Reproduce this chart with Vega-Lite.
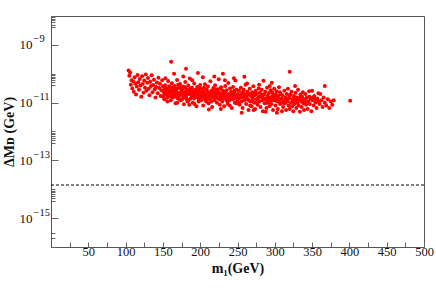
{
  "$schema": "https://vega.github.io/schema/vega-lite/v6.json",
  "width": 373,
  "height": 231,
  "autosize": "none",
  "padding": {"left": 51, "top": 16, "right": 12, "bottom": 44},
  "background": "white",
  "config": {
    "view": {"stroke": "#555", "strokeWidth": 1},
    "font": "Liberation Serif",
    "axis": {"grid": false, "domainColor": "#555", "tickColor": "#666", "labelFont": "Liberation Serif", "titleFont": "Liberation Serif", "labelColor": "#111", "titleColor": "#111"}
  },
  "resolve": {"axis": {"y": "independent"}},
  "datasets": {
    "pts": [
      {"m":104,"d":1.3e-10},{"m":105,"d":8.5e-11},{"m":106,"d":1.1e-10},{"m":107,"d":4.2e-11},{"m":108,"d":6.0e-11},{"m":109,"d":3.1e-11},{"m":110,"d":5.5e-11},{"m":111,"d":2.4e-11},{"m":112,"d":7.6e-11},{"m":113,"d":4.6e-11},{"m":114,"d":1.9e-11},{"m":115,"d":3.6e-11},{"m":116,"d":9.0e-11},{"m":117,"d":5.1e-11},{"m":118,"d":2.8e-11},{"m":119,"d":6.6e-11},{"m":120,"d":3.9e-11},{"m":121,"d":1.6e-11},{"m":122,"d":8.2e-11},{"m":123,"d":4.4e-11},{"m":124,"d":2.2e-11},{"m":125,"d":5.8e-11},{"m":126,"d":3.3e-11},{"m":127,"d":9.5e-11},{"m":128,"d":2.6e-11},{"m":129,"d":4.9e-11},{"m":130,"d":7.1e-11},{"m":131,"d":3.0e-11},{"m":132,"d":1.8e-11},{"m":133,"d":5.3e-11},{"m":134,"d":3.8e-11},{"m":135,"d":8.8e-11},{"m":136,"d":2.3e-11},{"m":137,"d":4.1e-11},{"m":138,"d":6.2e-11},{"m":139,"d":2.9e-11},{"m":140,"d":1.5e-11},{"m":141,"d":3.5e-11},{"m":142,"d":5.0e-11},{"m":143,"d":2.1e-11},{"m":144,"d":7.3e-11},{"m":145,"d":3.2e-11},{"m":146,"d":4.5e-11},{"m":147,"d":1.7e-11},{"m":148,"d":2.7e-11},{"m":149,"d":6.0e-11},{"m":150,"d":3.7e-11},
      {"m":151,"d":2.4e-11},{"m":152,"d":1.3e-11},{"m":153,"d":4.0e-11},{"m":154,"d":2.0e-11},{"m":155,"d":3.1e-11},{"m":156,"d":1.1e-11},{"m":157,"d":5.6e-11},{"m":158,"d":2.6e-11},{"m":159,"d":1.7e-11},{"m":160,"d":3.4e-11},{"m":161,"d":2.6e-10},{"m":161,"d":2.2e-11},{"m":162,"d":4.7e-11},{"m":163,"d":1.5e-11},{"m":164,"d":2.9e-11},{"m":165,"d":1.0e-10},{"m":165,"d":1.9e-11},{"m":166,"d":3.8e-11},{"m":167,"d":9.5e-12},{"m":168,"d":2.5e-11},{"m":169,"d":6.1e-11},{"m":170,"d":1.4e-11},{"m":171,"d":3.2e-11},{"m":172,"d":2.1e-11},{"m":173,"d":4.4e-11},{"m":174,"d":1.2e-11},{"m":175,"d":2.7e-11},{"m":176,"d":1.8e-11},{"m":177,"d":3.6e-11},{"m":178,"d":8.8e-12},{"m":179,"d":2.3e-11},{"m":180,"d":5.2e-11},{"m":181,"d":1.5e-10},{"m":181,"d":1.6e-11},{"m":182,"d":2.9e-11},{"m":183,"d":1.1e-11},{"m":184,"d":3.9e-11},{"m":185,"d":2.0e-11},{"m":186,"d":6.8e-11},{"m":187,"d":1.4e-11},{"m":188,"d":2.5e-11},{"m":189,"d":3.3e-11},{"m":190,"d":1.0e-11},{"m":191,"d":2.2e-11},{"m":192,"d":4.6e-11},{"m":193,"d":1.7e-11},{"m":194,"d":2.8e-11},{"m":195,"d":7.5e-12},{"m":196,"d":3.5e-11},{"m":197,"d":1.07e-10},{"m":197,"d":1.9e-11},{"m":198,"d":2.6e-11},{"m":199,"d":1.3e-11},{"m":200,"d":4.1e-11},
      {"m":150.5,"d":1.6e-11},{"m":152.5,"d":3.0e-11},{"m":154.5,"d":2.5e-11},{"m":156.5,"d":1.9e-11},{"m":158.5,"d":3.7e-11},{"m":160.5,"d":1.2e-11},{"m":162.5,"d":2.4e-11},{"m":164.5,"d":3.5e-11},{"m":166.5,"d":1.6e-11},{"m":168.5,"d":2.0e-11},{"m":170.5,"d":4.2e-11},{"m":172.5,"d":1.3e-11},{"m":174.5,"d":2.3e-11},{"m":176.5,"d":3.0e-11},{"m":178.5,"d":1.5e-11},{"m":180.5,"d":2.4e-11},{"m":182.5,"d":1.9e-11},{"m":184.5,"d":1.2e-11},{"m":186.5,"d":3.1e-11},{"m":188.5,"d":1.6e-11},{"m":190.5,"d":2.7e-11},{"m":192.5,"d":9.0e-12},{"m":194.5,"d":2.1e-11},{"m":196.5,"d":1.5e-11},{"m":198.5,"d":3.2e-11},
      {"m":151.7,"d":2.0e-11},{"m":155.8,"d":1.5e-11},{"m":159.6,"d":2.8e-11},{"m":163.7,"d":2.1e-11},{"m":167.8,"d":3.0e-11},{"m":171.6,"d":1.7e-11},{"m":175.7,"d":1.3e-11},{"m":179.8,"d":3.4e-11},{"m":183.6,"d":2.6e-11},{"m":187.8,"d":2.0e-11},{"m":191.7,"d":1.4e-11},{"m":195.6,"d":2.4e-11},{"m":199.7,"d":1.8e-11},{"m":153.3,"d":7.0e-11},{"m":177.3,"d":8.0e-11},{"m":189.2,"d":6.0e-11},{"m":169.3,"d":1.0e-11},{"m":185.4,"d":8.5e-12},{"m":197.8,"d":1.1e-11},
      {"m":157.4,"d":2.3e-11},{"m":161.9,"d":1.7e-11},{"m":166.0,"d":2.6e-11},{"m":170.0,"d":2.1e-11},{"m":173.9,"d":3.3e-11},{"m":178.1,"d":1.9e-11},{"m":182.0,"d":1.3e-11},{"m":186.1,"d":2.2e-11},{"m":190.0,"d":1.8e-11},{"m":193.9,"d":2.5e-11},{"m":198.0,"d":1.4e-11},
      {"m":200.8,"d":2.3e-11},{"m":201.5,"d":1.2e-11},{"m":202.3,"d":3.0e-11},{"m":203.1,"d":1.7e-11},{"m":204.0,"d":8.0e-12},{"m":204.8,"d":2.5e-11},{"m":205.6,"d":1.4e-11},{"m":206.4,"d":4.3e-11},{"m":207.2,"d":1.9e-11},{"m":208.0,"d":1.1e-11},{"m":208.8,"d":2.8e-11},{"m":209.6,"d":1.6e-11},{"m":210.4,"d":3.6e-11},{"m":211.2,"d":9.5e-12},{"m":212.0,"d":2.1e-11},{"m":212.8,"d":1.3e-11},{"m":213.6,"d":5.5e-11},{"m":214.4,"d":1.8e-11},{"m":215.2,"d":2.6e-11},{"m":216.0,"d":7.0e-12},{"m":216.8,"d":1.5e-11},{"m":217.6,"d":3.2e-11},{"m":218.4,"d":2.0e-11},{"m":219.2,"d":1.2e-11},{"m":220.0,"d":4.0e-11},{"m":220.8,"d":1.7e-11},{"m":221.6,"d":2.4e-11},{"m":222.4,"d":1.0e-11},{"m":223.2,"d":2.9e-11},{"m":224.0,"d":1.4e-11},{"m":224.8,"d":6.5e-11},{"m":225.6,"d":2.2e-11},{"m":226.4,"d":8.5e-12},{"m":227.2,"d":1.6e-11},{"m":228.0,"d":3.4e-11},{"m":228.8,"d":1.9e-11},{"m":229.6,"d":1.1e-11},{"m":230.4,"d":1.0e-10},{"m":230.4,"d":2.6e-11},{"m":231.2,"d":1.5e-11},{"m":232.0,"d":7.5e-12},{"m":232.8,"d":2.1e-11},{"m":233.6,"d":3.8e-11},{"m":234.4,"d":1.3e-11},{"m":235.2,"d":2.7e-11},{"m":236.0,"d":1.7e-11},{"m":236.8,"d":9.0e-12},{"m":237.6,"d":4.8e-11},{"m":238.4,"d":2.0e-11},{"m":239.2,"d":1.2e-11},{"m":240.0,"d":3.1e-11},{"m":240.8,"d":1.6e-11},{"m":241.6,"d":2.4e-11},{"m":242.4,"d":6.5e-12},{"m":243.2,"d":1.8e-11},{"m":244.0,"d":3.5e-11},{"m":244.8,"d":1.4e-11},{"m":245.6,"d":2.2e-11},{"m":246.4,"d":1.0e-11},{"m":247.2,"d":5.8e-11},{"m":248.0,"d":1.7e-11},{"m":248.8,"d":2.8e-11},{"m":249.6,"d":1.2e-11},{"m":250.4,"d":2.0e-11},
      {"m":200.3,"d":1.5e-11},{"m":202.7,"d":2.2e-11},{"m":205.1,"d":3.3e-11},{"m":207.6,"d":1.3e-11},{"m":209.9,"d":2.4e-11},{"m":212.4,"d":1.7e-11},{"m":214.9,"d":1.1e-11},{"m":217.1,"d":2.3e-11},{"m":219.7,"d":2.9e-11},{"m":222.0,"d":1.5e-11},{"m":224.4,"d":2.0e-11},{"m":226.8,"d":3.0e-11},{"m":229.1,"d":1.4e-11},{"m":231.7,"d":1.9e-11},{"m":234.0,"d":2.4e-11},{"m":236.4,"d":1.1e-11},{"m":238.9,"d":1.5e-11},{"m":241.1,"d":2.0e-11},{"m":243.7,"d":1.3e-11},{"m":246.0,"d":2.6e-11},{"m":248.4,"d":9.5e-12},{"m":203.6,"d":7.5e-11},{"m":218.9,"d":8.0e-11},{"m":233.1,"d":6.0e-11},{"m":245.2,"d":7.0e-11},{"m":211.6,"d":5.8e-12},{"m":227.7,"d":6.0e-12},{"m":239.6,"d":8.0e-12},
      {"m":206.0,"d":1.8e-11},{"m":210.9,"d":1.4e-11},{"m":215.8,"d":2.0e-11},{"m":221.1,"d":1.9e-11},{"m":225.9,"d":1.3e-11},{"m":230.9,"d":2.1e-11},{"m":235.8,"d":1.6e-11},{"m":240.4,"d":1.3e-11},{"m":244.6,"d":1.9e-11},{"m":249.2,"d":1.5e-11},
      {"m":251.2,"d":1.4e-11},{"m":252.0,"d":2.6e-11},{"m":252.8,"d":8.5e-12},{"m":253.6,"d":1.8e-11},{"m":254.4,"d":3.3e-11},{"m":255.2,"d":1.1e-11},{"m":256.0,"d":2.1e-11},{"m":256.8,"d":6.5e-12},{"m":257.6,"d":1.5e-11},{"m":258.4,"d":2.8e-11},{"m":259.2,"d":7.8e-11},{"m":259.2,"d":1.2e-11},{"m":260.0,"d":1.9e-11},{"m":260.8,"d":4.2e-11},{"m":261.6,"d":9.0e-12},{"m":262.4,"d":1.6e-11},{"m":263.2,"d":2.4e-11},{"m":264.0,"d":1.3e-11},{"m":264.8,"d":5.5e-12},{"m":265.6,"d":2.0e-11},{"m":266.4,"d":3.0e-11},{"m":267.2,"d":1.1e-11},{"m":268.0,"d":1.7e-11},{"m":268.8,"d":7.5e-12},{"m":269.6,"d":2.3e-11},{"m":270.4,"d":1.4e-11},{"m":271.2,"d":3.7e-11},{"m":272.0,"d":1.0e-11},{"m":272.8,"d":1.8e-11},{"m":273.6,"d":6.0e-12},{"m":274.4,"d":2.6e-11},{"m":275.2,"d":1.3e-11},{"m":276.0,"d":2.0e-11},{"m":276.8,"d":8.5e-12},{"m":277.6,"d":1.5e-11},{"m":278.4,"d":3.1e-11},{"m":279.2,"d":1.1e-11},{"m":280.0,"d":2.2e-11},{"m":280.8,"d":7.0e-12},{"m":281.6,"d":1.6e-11},{"m":282.4,"d":2.8e-11},{"m":283.2,"d":1.2e-11},{"m":284.0,"d":5.0e-12},{"m":284.8,"d":5.7e-11},{"m":285.6,"d":1.9e-11},{"m":286.4,"d":9.5e-12},{"m":287.2,"d":2.4e-11},{"m":288.0,"d":1.4e-11},{"m":288.8,"d":6.5e-12},{"m":289.6,"d":3.3e-11},{"m":290.4,"d":1.7e-11},{"m":291.2,"d":1.0e-11},{"m":292.0,"d":2.1e-11},{"m":292.8,"d":7.5e-12},{"m":293.6,"d":1.3e-11},{"m":294.4,"d":2.7e-11},{"m":295.2,"d":9.0e-12},{"m":296.0,"d":4.9e-11},{"m":296.0,"d":1.6e-11},{"m":296.8,"d":2.2e-11},{"m":297.6,"d":5.5e-12},{"m":298.4,"d":1.2e-11},{"m":299.2,"d":3.0e-11},{"m":300.0,"d":1.5e-11},{"m":300.8,"d":8.0e-12},{"m":301.6,"d":1.9e-11},{"m":302.4,"d":2.5e-11},{"m":303.2,"d":1.1e-11},{"m":304.0,"d":6.0e-12},{"m":304.8,"d":1.7e-11},{"m":305.6,"d":3.4e-11},{"m":306.4,"d":1.3e-11},{"m":307.2,"d":9.0e-12},{"m":308.0,"d":2.0e-11},{"m":308.8,"d":1.4e-11},{"m":309.6,"d":5.0e-12},
      {"m":250.9,"d":1.0e-11},{"m":254.0,"d":1.5e-11},{"m":257.1,"d":2.3e-11},{"m":261.2,"d":1.3e-11},{"m":263.7,"d":1.9e-11},{"m":266.9,"d":8.0e-12},{"m":269.9,"d":1.2e-11},{"m":273.1,"d":2.1e-11},{"m":275.7,"d":1.0e-11},{"m":279.6,"d":1.6e-11},{"m":282.9,"d":1.9e-11},{"m":286.0,"d":1.3e-11},{"m":289.1,"d":1.0e-11},{"m":291.7,"d":1.5e-11},{"m":294.9,"d":1.2e-11},{"m":298.0,"d":1.8e-11},{"m":301.2,"d":1.2e-11},{"m":303.7,"d":1.5e-11},{"m":306.9,"d":2.3e-11},{"m":309.2,"d":1.0e-11},{"m":255.7,"d":4.5e-12},{"m":271.7,"d":5.5e-12},{"m":287.8,"d":4.8e-12},{"m":302.8,"d":4.5e-12},{"m":262.9,"d":4.6e-11},{"m":278.9,"d":4.2e-11},{"m":293.2,"d":3.8e-11},
      {"m":258.9,"d":1.7e-11},{"m":265.1,"d":1.2e-11},{"m":270.8,"d":1.8e-11},{"m":277.0,"d":1.2e-11},{"m":283.7,"d":1.5e-11},{"m":290.0,"d":1.3e-11},{"m":297.0,"d":1.4e-11},{"m":305.0,"d":1.1e-11},
      {"m":310.4,"d":1.8e-11},{"m":311.2,"d":7.0e-12},{"m":312.0,"d":1.2e-11},{"m":312.8,"d":2.6e-11},{"m":313.6,"d":9.5e-12},{"m":314.4,"d":1.5e-11},{"m":315.2,"d":5.5e-12},{"m":316.0,"d":2.0e-11},{"m":316.8,"d":1.1e-11},{"m":317.6,"d":3.0e-11},{"m":318.4,"d":8.0e-12},{"m":319.2,"d":1.4e-11},{"m":320.0,"d":1.17e-10},{"m":320.0,"d":6.0e-12},{"m":320.8,"d":1.9e-11},{"m":321.6,"d":1.0e-11},{"m":322.4,"d":2.4e-11},{"m":323.2,"d":7.5e-12},{"m":324.0,"d":1.3e-11},{"m":324.8,"d":5.0e-12},{"m":325.6,"d":1.7e-11},{"m":326.4,"d":9.0e-12},{"m":327.2,"d":3.8e-11},{"m":327.2,"d":1.2e-11},{"m":328.0,"d":2.2e-11},{"m":328.8,"d":6.5e-12},{"m":329.6,"d":1.5e-11},{"m":330.4,"d":1.0e-11},{"m":331.2,"d":2.8e-11},{"m":332.0,"d":8.0e-12},{"m":332.8,"d":1.3e-11},{"m":333.6,"d":4.8e-12},{"m":334.4,"d":1.9e-11},{"m":335.2,"d":1.1e-11},{"m":336.0,"d":7.0e-12},{"m":336.8,"d":1.6e-11},{"m":337.6,"d":2.3e-11},{"m":338.4,"d":9.5e-12},{"m":339.2,"d":5.5e-12},{"m":340.0,"d":1.3e-11},{"m":341.0,"d":2.0e-11},{"m":342.0,"d":8.5e-12},{"m":343.0,"d":1.5e-11},{"m":344.0,"d":6.0e-12},{"m":345.0,"d":1.1e-11},{"m":346.0,"d":2.5e-11},{"m":347.0,"d":9.0e-12},{"m":348.0,"d":1.4e-11},{"m":349.0,"d":5.0e-12},{"m":350.0,"d":2.6e-11},{"m":350.5,"d":1.2e-11},{"m":352.0,"d":8.0e-12},{"m":353.0,"d":1.7e-11},{"m":354.5,"d":1.0e-11},{"m":356.0,"d":6.5e-12},{"m":357.0,"d":1.4e-11},{"m":358.5,"d":2.1e-11},{"m":360.0,"d":9.0e-12},{"m":361.0,"d":2.0e-11},{"m":362.5,"d":1.2e-11},{"m":364.0,"d":7.0e-12},{"m":365.5,"d":1.5e-11},{"m":367.0,"d":3.8e-11},{"m":367.0,"d":1.0e-11},{"m":369.0,"d":8.0e-12},{"m":371.0,"d":1.3e-11},{"m":373.0,"d":6.5e-12},{"m":375.0,"d":1.1e-11},{"m":377.0,"d":8.5e-12},{"m":379.0,"d":1.2e-11},{"m":401.0,"d":1.15e-11},
      {"m":311.8,"d":1.0e-11},{"m":315.9,"d":1.3e-11},{"m":319.7,"d":1.7e-11},{"m":323.8,"d":1.1e-11},{"m":326.0,"d":1.4e-11},{"m":330.0,"d":1.2e-11},{"m":334.0,"d":1.5e-11},{"m":338.0,"d":1.2e-11},{"m":342.5,"d":1.1e-11},{"m":346.5,"d":1.6e-11},{"m":351.0,"d":1.5e-11},{"m":355.0,"d":1.3e-11},{"m":359.0,"d":1.1e-11}
    ],
    "ref": [{"y": 1.4e-14}]
  },
  "layer": [
    {
      "data": {"name": "pts"},
      "mark": {"type": "circle", "color": "#ff0000", "size": 16, "opacity": 1},
      "encoding": {
        "x": {
          "field": "m", "type": "quantitative",
          "scale": {"domain": [0, 500], "nice": false, "zero": false},
          "axis": {
            "values": [25,50,75,100,125,150,175,200,225,250,275,300,325,350,375,400,425,450,475,500],
            "labelExpr": "datum.value % 50 == 0 ? datum.label : ''",
            "tickSize": -5, "labelPadding": 3, "labelFontSize": 12.5, "labelFlush": false,
            "title": "m₁(GeV)", "titleFontSize": 14, "titleFontWeight": "bold", "titlePadding": 4
          }
        },
        "y": {
          "field": "d", "type": "quantitative",
          "scale": {"type": "log", "domain": [1e-16, 1e-8], "nice": false},
          "axis": {
            "orient": "left",
            "values": [1e-8, 9e-9, 8e-9, 7e-9, 6e-9, 5e-9, 4e-9, 1e-9, 1e-10, 9e-11, 8e-11, 7e-11, 6e-11, 5e-11, 4e-11, 1e-11, 1e-12, 9e-13, 8e-13, 7e-13, 6e-13, 5e-13, 4e-13, 1e-13, 1e-14, 9e-15, 8e-15, 7e-15, 6e-15, 5e-15, 4e-15, 1e-15, 3e-16, 2e-16, 1e-16],
            "labelExpr": "datum.value == 1e-9 || datum.value == 1e-11 || datum.value == 1e-13 || datum.value == 1e-15 ? '10' : ''",
            "tickSize": -4, "labelPadding": 23,
            "labelFontSize": 13, "labelFlush": false, "labelBaseline": "middle", "labelAlign": "right",
            "title": "ΔMᴅ (GeV)", "titleFontSize": 14, "titleFontWeight": "bold", "titlePadding": 3
          }
        }
      }
    },
    {
      "data": {"name": "ref"},
      "mark": {"type": "rule", "color": "#000", "strokeDash": [3, 2], "strokeWidth": 1},
      "encoding": {
        "y": {
          "field": "y", "type": "quantitative",
          "axis": {
            "orient": "left",
            "values": [1e-9, 1e-11, 1e-13, 1e-15],
            "labelExpr": "datum.value == 1e-9 ? '−9' : datum.value == 1e-11 ? '−11' : datum.value == 1e-13 ? '−13' : '−15'",
            "domain": false, "ticks": true, "tickSize": -7, "title": null,
            "labelPadding": 25, "labelAlign": "left", "labelFontSize": 10.5, "labelOffset": -6, "labelFlush": false, "labelBaseline": "middle"
          }
        }
      }
    }
  ]
}
